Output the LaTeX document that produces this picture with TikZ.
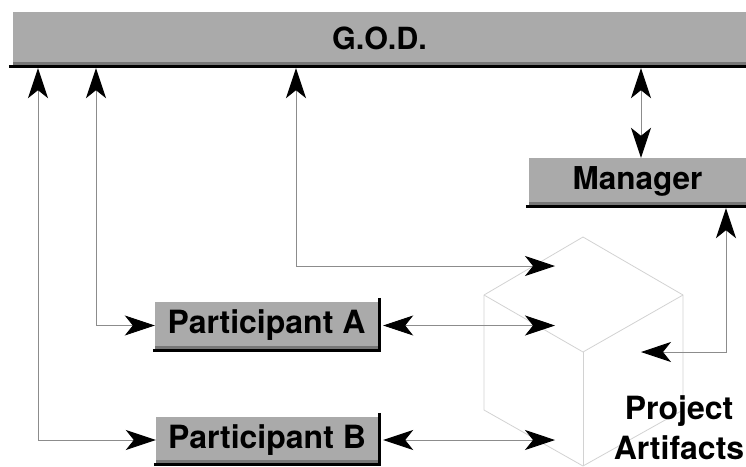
\documentclass[tikz,border=0pt]{standalone}
\usepackage{fontspec}
\setmainfont{TeX Gyre Heros}
\usetikzlibrary{arrows.meta}
\definecolor{boxgray}{HTML}{AAAAAA}
\definecolor{stripgray}{HTML}{777777}
\definecolor{linegray}{HTML}{8C8C8C}
\definecolor{cubegray}{HTML}{D2D2D2}
\begin{document}
\begin{tikzpicture}[x=1pt,y=-1pt,
  >={Stealth[length=30pt,width=20pt,inset=8pt,color=black]},
  box/.style={draw=none, fill=boxgray, inner sep=0pt, font=\bfseries\fontsize{32}{38}\selectfont},
  conn/.style={draw=linegray, line width=0.9pt, <->},
  blackedge/.style={line width=3pt, black},
  strip/.style={fill=stripgray},
  cube/.style={draw=cubegray, line width=0.8pt, line join=round},
  label/.style={font=\bfseries\fontsize{32}{40}\selectfont, align=center, inner sep=0pt}
]
\useasboundingbox (0,0) rectangle (746,466);

% cube
\draw[cube] (583,237) -- (484,295) -- (484,410) -- (583,466) -- (683,410) -- (683,295) -- cycle;
\draw[cube] (484,295) -- (583,352) -- (683,295);
\draw[cube] (583,352) -- (583,466);

% boxes
\node[box, font=\bfseries\fontsize{30.5}{36}\selectfont, minimum width=733pt, minimum height=53pt] (god) at (379.5,38.5) {G.O.D.};
\fill[strip] ([yshift=3pt]god.south west) rectangle (god.south east);
\draw[blackedge] ([xshift=-4pt,yshift=-1.5pt]god.south west) -- ([yshift=-1.5pt]god.south east);

\node[box, font=\bfseries\fontsize{31.5}{38}\selectfont, minimum width=217pt, minimum height=47pt] (mgr) at (637.5,181.5) {Manager};
\fill[strip] ([yshift=3pt]mgr.south west) rectangle (mgr.south east);
\draw[blackedge] ([xshift=-3pt,yshift=-1.5pt]mgr.south west) -- ([yshift=-1.5pt]mgr.south east);

\node[box, minimum width=223pt, minimum height=47pt] (pa) at (266.5,325.5) {Participant A};
\fill[strip] ([yshift=3pt]pa.south west) rectangle (pa.south east);
\draw[blackedge] ([xshift=-2pt,yshift=-1.5pt]pa.south west) -- ([xshift=3pt,yshift=-1.5pt]pa.south east);
\draw[blackedge] ([xshift=1.5pt,yshift=4pt]pa.north east) -- ([xshift=1.5pt,yshift=-3pt]pa.south east);

\node[box, minimum width=222pt, minimum height=46pt] (pb) at (267,440) {Participant B};
\fill[strip] ([yshift=3pt]pb.south west) rectangle (pb.south east);
\draw[blackedge] ([xshift=-2pt,yshift=-1.5pt]pb.south west) -- ([xshift=3pt,yshift=-1.5pt]pb.south east);
\draw[blackedge] ([xshift=1.5pt,yshift=4pt]pb.north east) -- ([xshift=1.5pt,yshift=-3pt]pb.south east);

\node[label] (art) at (679,428) {Project\\Artifacts};

% coordinates
\coordinate (godb) at ([yshift=-3pt]god.south);
\coordinate (mgrb) at ([yshift=-3pt]mgr.south);
\coordinate (xa) at (38,0);
\coordinate (xb) at (96,0);
\coordinate (xc) at (296,0);
\coordinate (xm) at (641,0);
\coordinate (xr) at (726,0);
\coordinate (cubeT) at (555,266);
\coordinate (cubeX) at (555,0);
\coordinate (cubeM) at (641,352);

% connectors
\draw[conn] (godb -| xa) |- (pb.west);
\draw[conn] (godb -| xb) |- (pa.west);
\draw[conn] (godb -| xc) |- (cubeT);
\draw[conn] (godb -| xm) -- (mgr.north -| xm);
\draw[conn] (mgrb -| xr) |- (cubeM);
\draw[conn] ([xshift=5pt]pa.east) -- (pa.east -| cubeX);
\draw[conn] ([xshift=5pt]pb.east) -- (pb.east -| cubeX);
\end{tikzpicture}
\end{document}
